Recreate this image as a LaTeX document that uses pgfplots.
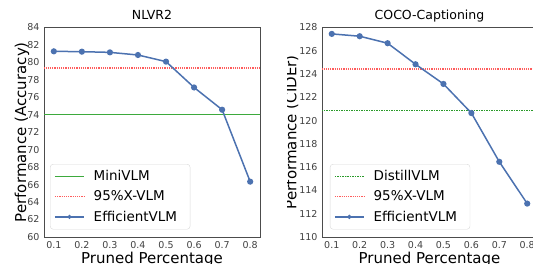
\documentclass[border=0pt]{standalone}
\usepackage{pgfplots}
\pgfplotsset{compat=1.18}
\usepackage{fontspec}
\setmainfont{DejaVu Sans}
\definecolor{sblue}{HTML}{4C72B0}
\definecolor{lgreen}{HTML}{3DAA3D}
\definecolor{dgreen}{HTML}{2A9A2A}
\definecolor{lred}{HTML}{FF5C5C}
\begin{document}
\begin{tikzpicture}
\useasboundingbox (0pt,0pt) rectangle (533pt,264pt);
\clip (0pt,0pt) rectangle (533pt,264pt);
\pgfplotsset{
 myax/.style={
  scale only axis, height=209.5pt,
  xmin=0.065, xmax=0.835,
  xtick={0.1,0.2,0.3,0.4,0.5,0.6,0.7,0.8},
  xticklabels={0.1,0.2,0.3,0.4,0.5,0.6,0.7,0.8},
  axis line style={black!70, line width=0.8pt},
  tick label style={font=\fontsize{9.5}{10}\selectfont, text=black!75},
  /pgf/number format/assume math mode=true,
  major tick length=0pt,
  xticklabel style={yshift=-1pt},
  yticklabel style={xshift=-1pt},
  title style={font=\fontsize{12.5}{14}\selectfont, at={(axis description cs:0.5,1)}, anchor=base, yshift=2pt, inner sep=0pt},
  xlabel style={font=\fontsize{15}{16}\selectfont, at={(axis description cs:0.5,0)}, anchor=north, yshift=-15pt, inner sep=0pt},
  ylabel style={font=\fontsize{15}{16}\selectfont, anchor=base, inner sep=0pt},
  legend cell align=left,
  legend style={at={(axis description cs:0.028,0.036)}, anchor=south west, draw=black!15, rounded corners=3pt, fill=white,
    font=\fontsize{13.5}{15}\selectfont, row sep=4.5pt, inner xsep=4pt, inner ysep=4.5pt,
    nodes={inner xsep=9pt}},
  legend image code/.code={\draw[mark repeat=2,mark phase=2,##1] plot coordinates {(0pt,0pt) (14.5pt,0pt) (29pt,0pt)};},
 }
}
\begin{axis}[myax, at={(44pt,27pt)}, anchor=south west, width=216pt,
  ymin=60, ymax=84, ytick={60,62,64,66,68,70,72,74,76,78,80,82,84},
  title={NLVR2}, xlabel={Pruned Percentage}, ylabel={Performance (Accuracy)},
  ylabel style={at={(axis description cs:-0.0833,0.5)}}]
\addplot[lgreen, line width=1.4pt] coordinates {(0.0,74.0) (0.9,74.0)};
\addlegendentry{MiniVLM}
\addplot[lred, line width=1.4pt, dash pattern=on 1.2pt off 1.0pt] coordinates {(0.0,79.35) (0.9,79.35)};
\addlegendentry{95\%X-VLM}
\addplot[sblue, line width=1.5pt, mark=*, mark size=2.3pt, mark options={solid, fill=sblue, draw=sblue},
  legend image post style={mark size=1.3pt}] coordinates {
  (0.1,81.27) (0.2,81.23) (0.3,81.15) (0.4,80.85) (0.5,80.09) (0.6,77.13) (0.7,74.58) (0.8,66.34)};
\addlegendentry{EfficientVLM}
\end{axis}
\begin{scope}
\clip (287pt,0pt) rectangle (533pt,264pt);
\begin{axis}[myax, at={(322pt,27pt)}, anchor=south west, width=215pt,
  ymin=110, ymax=128, ytick={110,112,114,116,118,120,122,124,126,128},
  title={COCO-Captioning}, xlabel={Pruned Percentage}, ylabel={Performance (CIDEr)},
  ylabel style={at={(axis description cs:-0.1195,0.5)}},
  legend style={at={(axis description cs:0.037,0.036)}}]
\addplot[dgreen, line width=1.2pt, dash pattern=on 1.5pt off 1pt] coordinates {(0.0,120.85) (0.9,120.85)};
\addlegendentry{DistillVLM}
\addplot[lred, line width=1.4pt, dash pattern=on 1.2pt off 1.0pt] coordinates {(0.0,124.44) (0.9,124.44)};
\addlegendentry{95\%X-VLM}
\addplot[sblue, line width=1.5pt, mark=*, mark size=2.3pt, mark options={solid, fill=sblue, draw=sblue},
  legend image post style={mark size=1.3pt}] coordinates {
  (0.1,127.45) (0.2,127.25) (0.3,126.65) (0.4,124.84) (0.5,123.15) (0.6,120.65) (0.7,116.46) (0.8,112.87)};
\addlegendentry{EfficientVLM}
\end{axis}
\end{scope}
\end{tikzpicture}
\end{document}
